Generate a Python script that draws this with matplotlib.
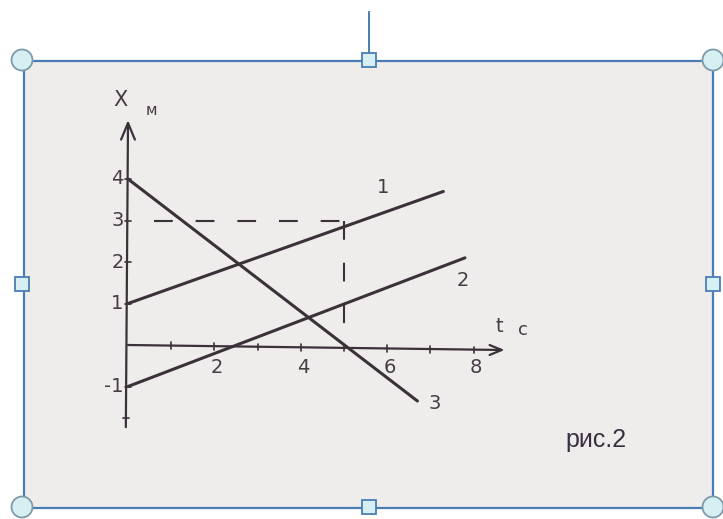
import matplotlib
matplotlib.use("Agg")
import matplotlib.pyplot as plt
from matplotlib.patches import Rectangle, Circle

# data (t in s, x in m)
t_line1 = [0, 7.3]
x_line1 = [1, 3.7]
t_line2 = [0, 7.8]
x_line2 = [-1, 2.1]
t_line3 = [0, 6.7]
x_line3 = [4, -1.35]
line_names = ["1", "2", "3"]
t_ticks = [2, 4, 6, 8]
x_ticks = [4, 3, 2, 1, -1]
t_mark, x_mark = 5, 3

INK = "#3b3139"
TXT = "#463c44"
PAPER = "#efecec"
BLUE = "#4a7db3"
HANDLE = "#d6eff3"

fig = plt.figure(figsize=(7.23, 5.19), dpi=100)
fig.patch.set_facecolor("white")

# page frame (pixel coords)
bg = fig.add_axes([0, 0, 1, 1])
bg.set_xlim(0, 723); bg.set_ylim(519, 0); bg.axis("off")
bg.add_patch(Rectangle((24, 61), 689, 447, facecolor=PAPER, edgecolor=BLUE, lw=1.6, zorder=1))
bg.plot([369, 369], [12, 53], color=BLUE, lw=1.4, zorder=2)
for cx, cy in [(22, 60), (713, 60), (22, 507), (713, 507)]:
    bg.add_patch(Circle((cx, cy), 10.5, facecolor=HANDLE, edgecolor="#7f9aa8", lw=1.3, zorder=3))
for cx, cy in [(369, 60), (22, 284), (713, 284), (369, 507)]:
    bg.add_patch(Rectangle((cx - 7, cy - 7), 14, 14, facecolor=HANDLE, edgecolor=BLUE, lw=1.3, zorder=3))
bg.text(596, 440, "рис.2", fontsize=18, family="Liberation Sans", color="#3a3040",
        ha="center", va="center")

# graph: t -> px = 128 + 43.2 t,  x -> py = 345 - 41.5 x
l_px, r_px = 128 - 2 * 43.2, 128 + 10 * 43.2
top_py, bot_py = 345 - 6 * 41.5, 345 + 3 * 41.5
ax = fig.add_axes([l_px / 723, (519 - bot_py) / 519, (r_px - l_px) / 723, (bot_py - top_py) / 519])
ax.set_xlim(-2, 10); ax.set_ylim(-3, 6); ax.axis("off"); ax.patch.set_alpha(0)

kw = dict(color=INK, solid_capstyle="round")
# axes with open arrowheads
ax.plot([-0.05, 0], [-1.98, 5.35], lw=1.6, **kw)
ax.plot([-0.16, 0, 0.16], [4.95, 5.35, 4.95], lw=1.6, **kw)
ax.plot([0, 8.65], [0, -0.12], lw=1.6, **kw)
ax.plot([8.37, 8.65, 8.37], [0.0, -0.12, -0.24], lw=1.6, **kw)
for t in range(1, 9):
    ax.plot([t, t], [0.08 - 0.015 * t, -0.08 - 0.015 * t], lw=1.2, **kw)
for x in x_ticks:
    ax.plot([-0.08, 0.08], [x, x], lw=1.2, **kw)
ax.plot([-0.12, 0.02], [-1.75, -1.75], lw=1.2, **kw)

# dashed guide to line 1
ax.plot([0.6, t_mark], [x_mark, x_mark], lw=1.5, color=INK, dashes=(9, 11))
ax.plot([t_mark, t_mark], [x_mark, 0], lw=1.5, color=INK, dashes=(9, 11))

for tt, xx in [(t_line1, x_line1), (t_line2, x_line2), (t_line3, x_line3)]:
    ax.plot(tt, xx, lw=2.2, **kw)

tf = dict(family="DejaVu Sans", color=TXT, fontsize=14, ha="center", va="center")
for t in t_ticks:
    ax.text(t + 0.05, -0.55, str(t), **tf)
for x in x_ticks:
    ax.text(-0.1, x, str(x), **dict(tf, ha="right"))

ax.text(5.9, 3.8, line_names[0], **tf)
ax.text(7.75, 1.55, line_names[1], **tf)
ax.text(7.1, -1.4, line_names[2], **tf)
ax.text(-0.18, 5.9, "X", **dict(tf, fontsize=15))
ax.text(0.55, 5.65, "м", **dict(tf, fontsize=11))
ax.text(8.6, 0.45, "t", **tf)
ax.text(9.15, 0.35, "с", **dict(tf, fontsize=13))

fig.savefig("out.png", dpi=100)
